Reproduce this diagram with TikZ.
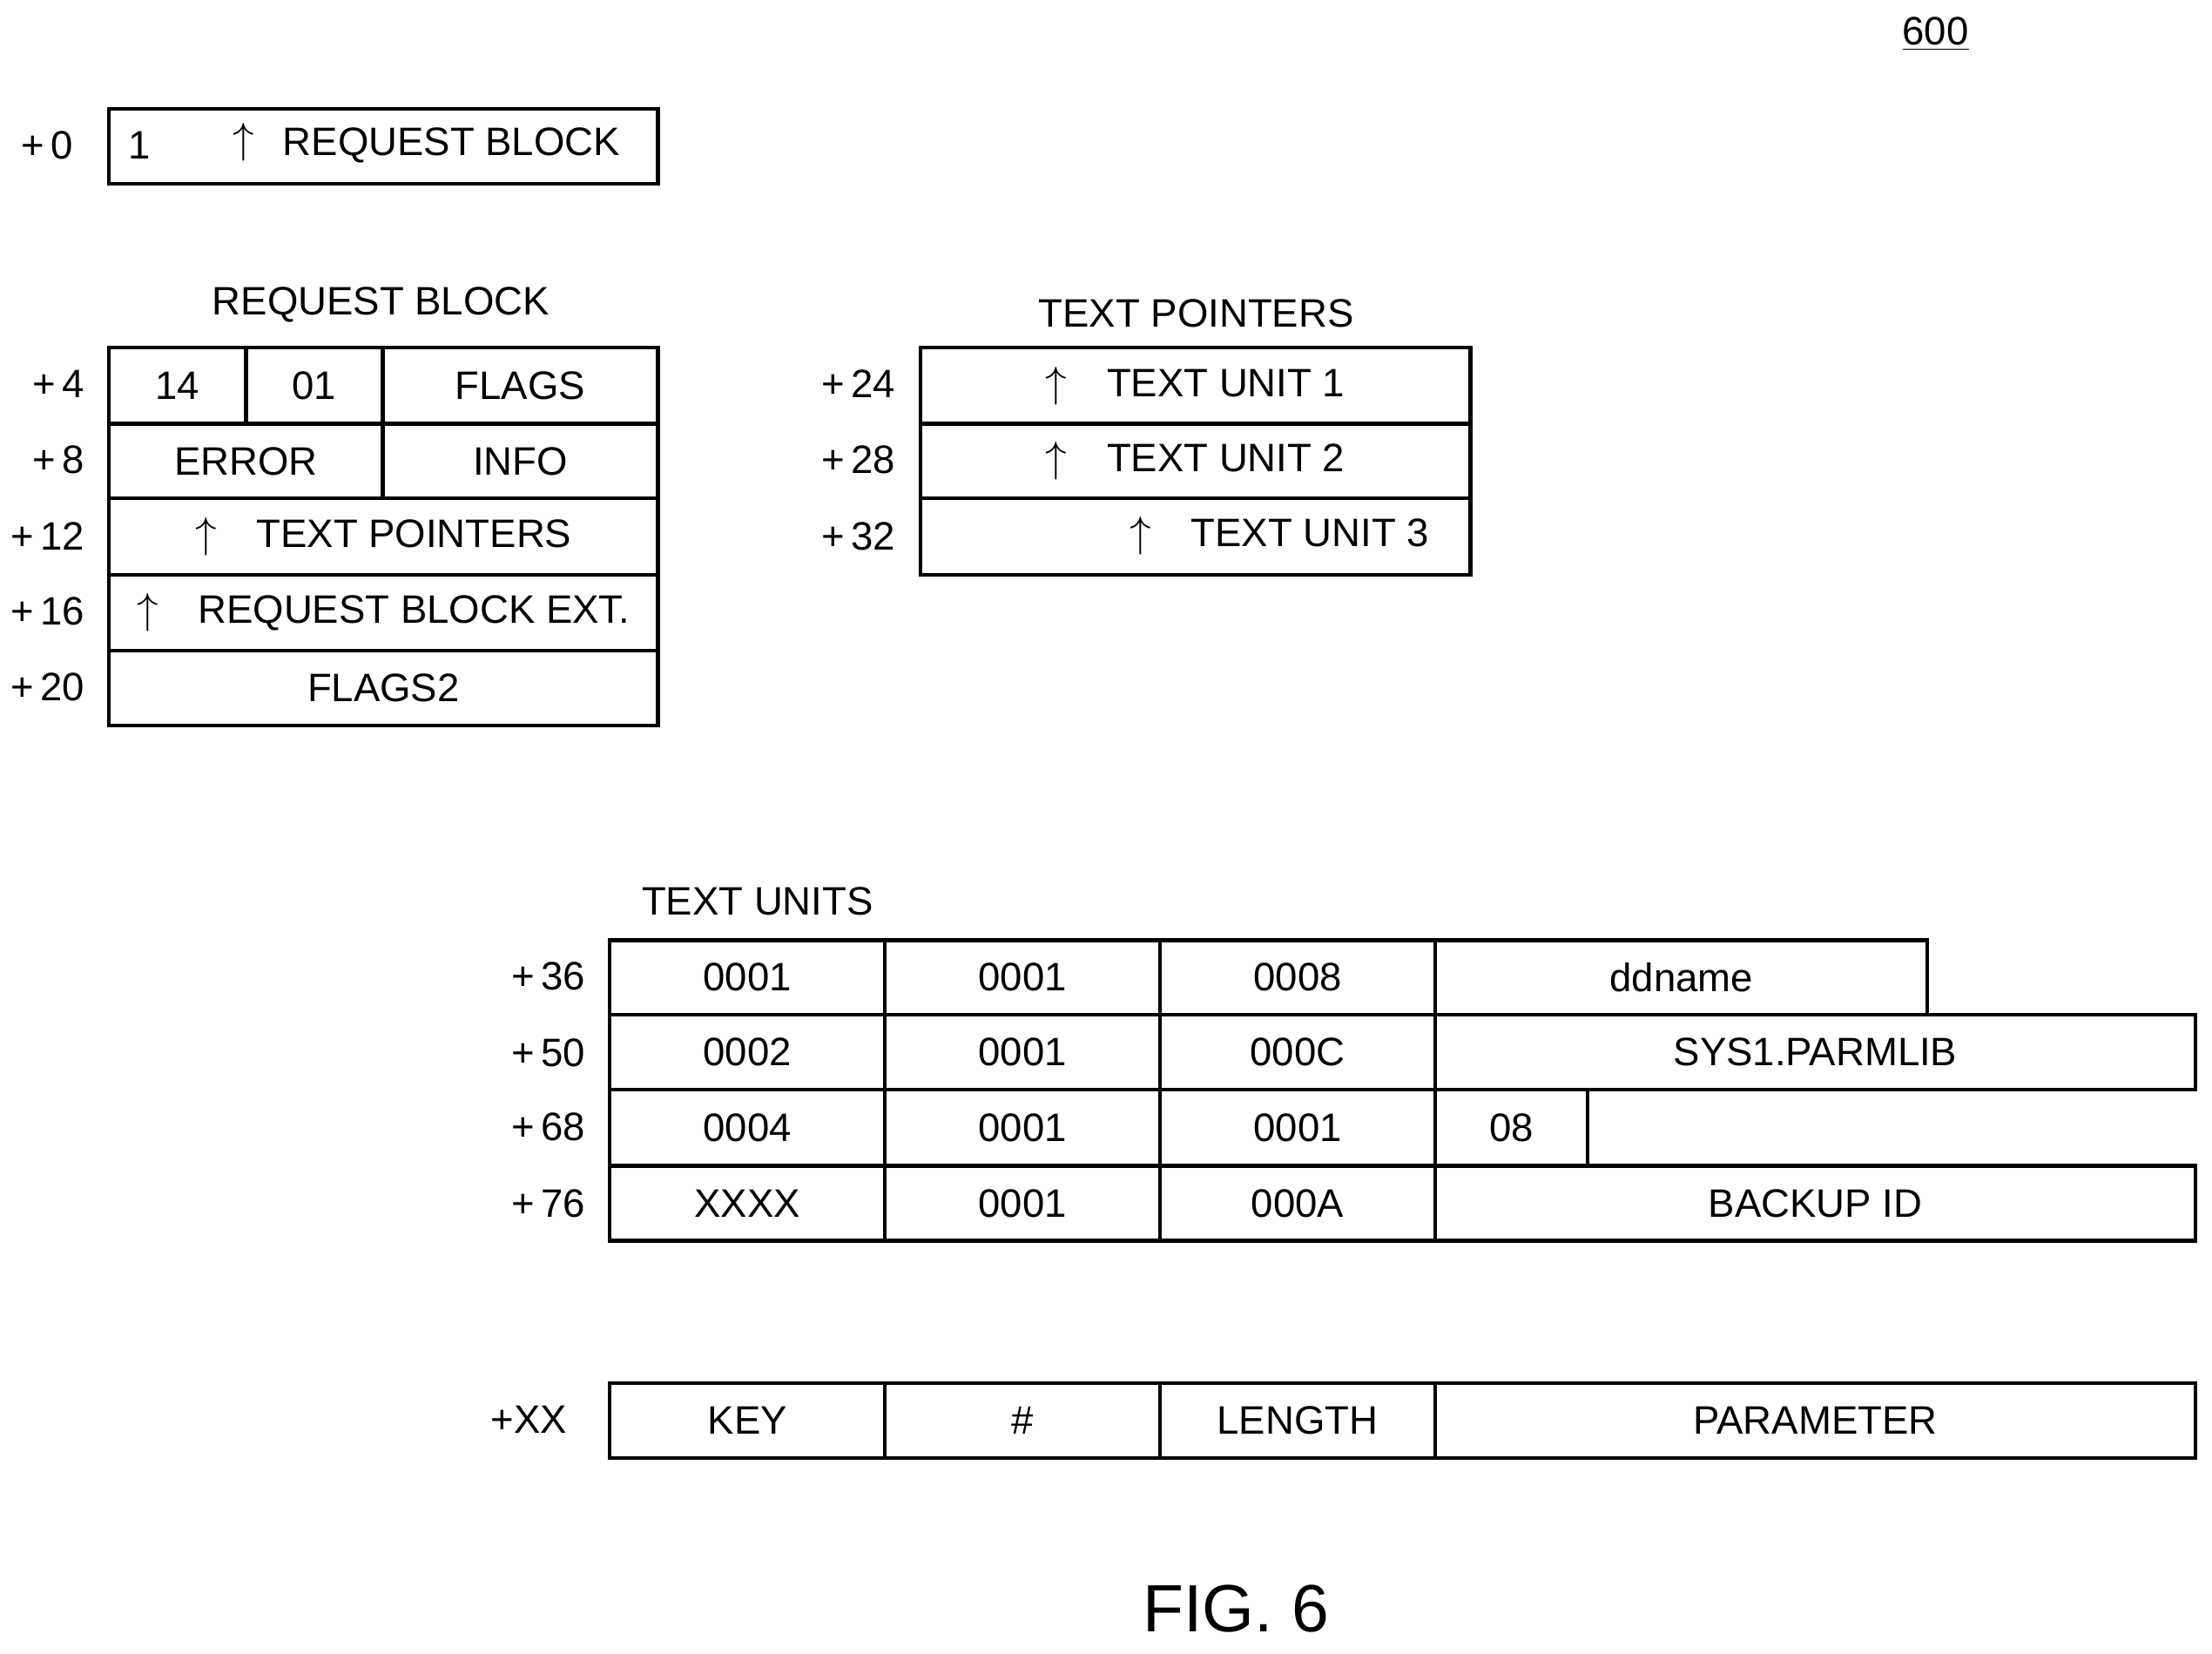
\documentclass[tikz,border=0pt]{standalone}
\usepackage{fontspec}
\setmainfont{Liberation Sans}
\usetikzlibrary{positioning}
\tikzset{
  cell/.style={draw,line width=1.5pt,inner sep=0pt,anchor=north west,font=\fontsize{16}{19}\selectfont},
  lbl/.style={anchor=east,font=\fontsize{16}{19}\selectfont},
  ttl/.style={font=\fontsize{16}{19}\selectfont}
}
% cell: name, x1, y1, x2, y2, text
\newcommand{\cell}[6]{%
  \pgfmathsetmacro{\cw}{(#4-#2)*0.02}\pgfmathsetmacro{\ch}{(#5-#3)*0.02}%
  \node[cell,minimum width=\cw cm,minimum height=\ch cm] (#1) at (#2,#3) {#6};}
\newcommand{\up}{$\uparrow$}
\begin{document}
\begin{tikzpicture}[x=0.02cm,y=-0.02cm]
  \useasboundingbox (0,0) rectangle (1568,1172);
  %nummer
  \node[ttl] (num) at (1372,24) {\underline{600}};
  %+0
  \cell{top}{76}{76}{465}{129}{}
  \node[ttl] (topone) at (99,103) {1};
  \node[ttl] (toparr) at (173,101) {\up};
  \node[ttl] (toptxt) at (320,103) {REQUEST BLOCK};
  \node[lbl] (l0) at (58,103) {+\,0};

  %request block
  \node[ttl] (rbt) at (270,216) {REQUEST BLOCK};
  \cell{rb1a}{76}{245}{173}{299}{14}
  \cell{rb1b}{173}{245}{270}{299}{01}
  \cell{rb1c}{270}{245}{465}{299}{FLAGS}
  \cell{rb2a}{76}{299}{270}{352}{ERROR}
  \cell{rb2b}{270}{299}{465}{352}{INFO}
  \cell{rb3}{76}{352}{465}{406}{\up\quad TEXT POINTERS}
  \cell{rb4}{76}{406}{465}{460}{\up\quad REQUEST BLOCK EXT.}
  \cell{rb5}{76}{460}{465}{513}{FLAGS2}
  \node[lbl] at (66,272) {+\,4};
  \node[lbl] at (66,326) {+\,8};
  \node[lbl] at (66,380) {+\,12};
  \node[lbl] at (66,433) {+\,16};
  \node[lbl] at (66,487) {+\,20};

  %text pointers
  \node[ttl] (tpt) at (848,222) {TEXT POINTERS};
  \cell{tp1}{651}{245}{1041}{299}{\up\quad TEXT UNIT 1}
  \cell{tp2}{651}{299}{1041}{352}{\up\quad TEXT UNIT 2}
  \cell{tp3}{651}{352}{1041}{406}{}
  \node[ttl] at (907,380) {\up\quad TEXT UNIT 3};
  \node[lbl] at (641,272) {+\,24};
  \node[lbl] at (641,326) {+\,28};
  \node[lbl] at (641,380) {+\,32};

  %text units
  \node[ttl] (tut) at (537,639) {TEXT UNITS};
  \cell{a1}{431}{665}{626}{718}{0001}
  \cell{b1}{626}{665}{821}{718}{0001}
  \cell{c1}{821}{665}{1016}{718}{0008}
  \cell{d1}{1016}{665}{1365}{718}{ddname}
  \cell{a2}{431}{718}{626}{771}{0002}
  \cell{b2}{626}{718}{821}{771}{0001}
  \cell{c2}{821}{718}{1016}{771}{000C}
  \cell{d2}{1016}{718}{1555}{771}{SYS1.PARMLIB}
  \cell{a3}{431}{771}{626}{825}{0004}
  \cell{b3}{626}{771}{821}{825}{0001}
  \cell{c3}{821}{771}{1016}{825}{0001}
  \cell{d3}{1016}{771}{1124}{825}{08}
  \cell{a4}{431}{825}{626}{878}{XXXX}
  \cell{b4}{626}{825}{821}{878}{0001}
  \cell{c4}{821}{825}{1016}{878}{000A}
  \cell{d4}{1016}{825}{1555}{878}{BACKUP ID}
  \node[lbl] at (421,692) {+\,36};
  \node[lbl] at (421,746) {+\,50};
  \node[lbl] at (421,799) {+\,68};
  \node[lbl] at (421,853) {+\,76};

  %format
  \cell{key}{431}{979}{626}{1032}{KEY}
  \cell{cnt}{626}{979}{821}{1032}{\#}
  \cell{len}{821}{979}{1016}{1032}{LENGTH}
  \cell{par}{1016}{979}{1555}{1032}{PARAMETER}
  \node[lbl] at (408,1006) {+XX};

  \node[font=\fontsize{27}{31}\selectfont] (fig) at (876,1140) {FIG. 6};
\end{tikzpicture}
\end{document}
